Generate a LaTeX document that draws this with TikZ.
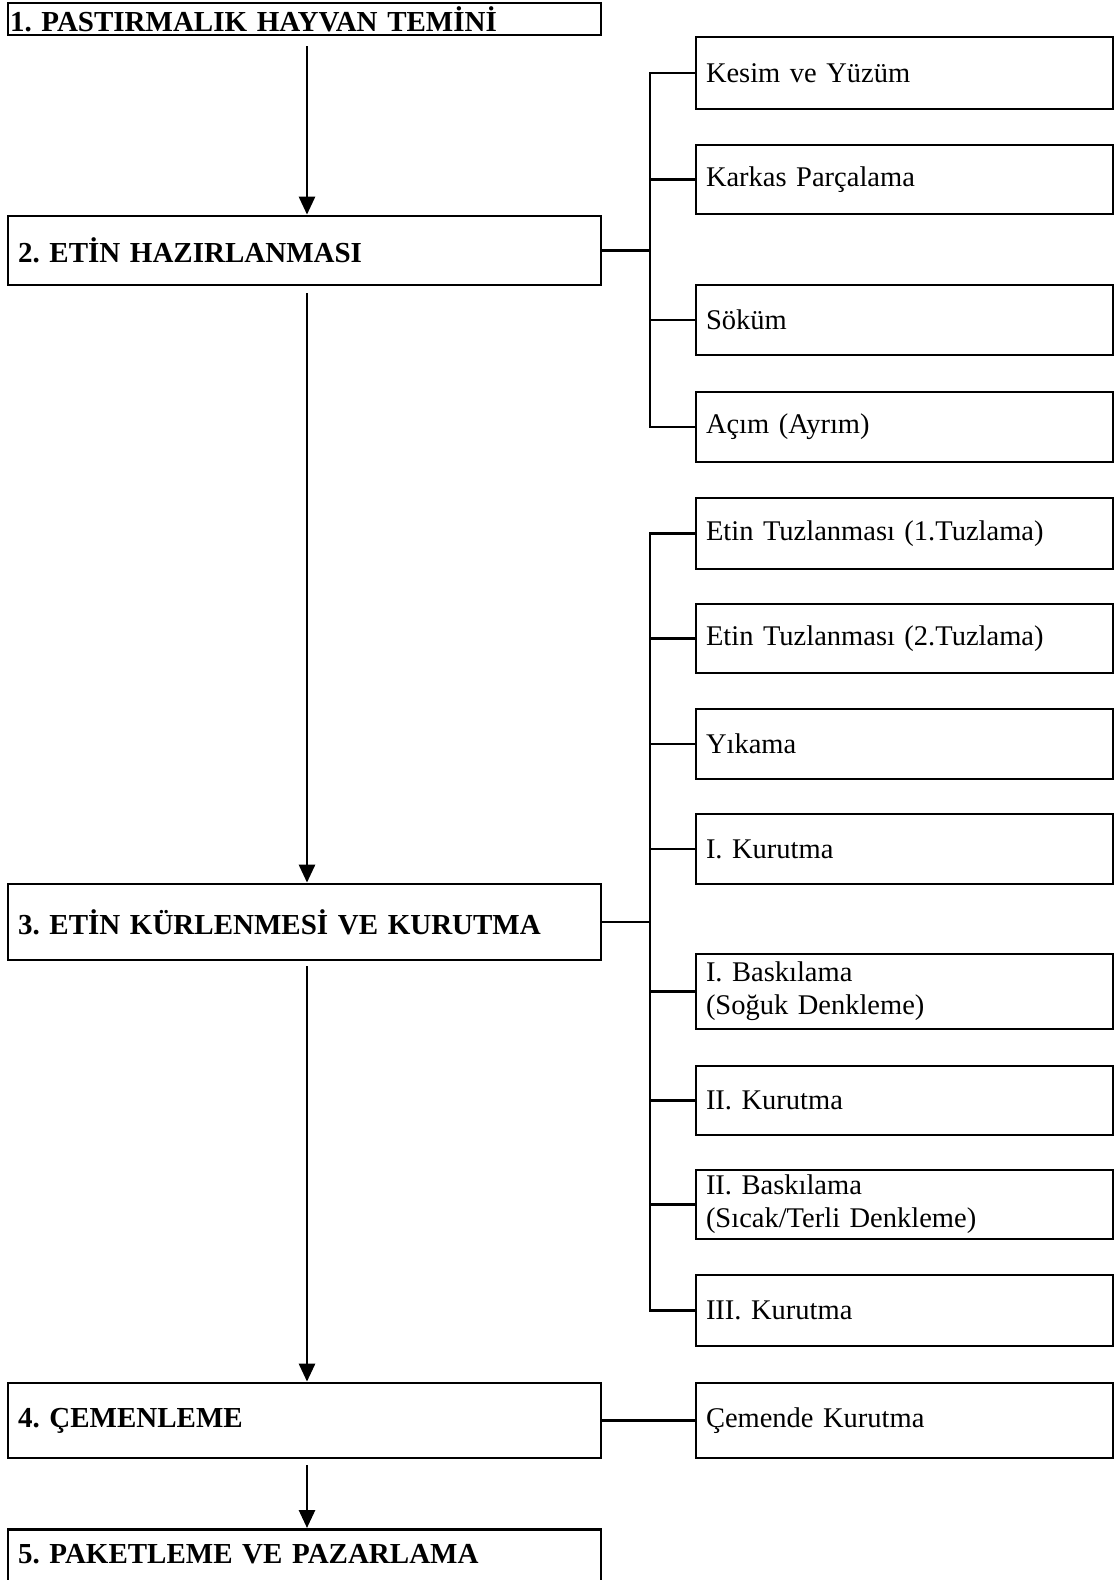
\documentclass[tikz,border=0pt]{standalone}
\usepackage{fontspec}
\setmainfont{Liberation Serif}
\usetikzlibrary{arrows.meta}
\frenchspacing

\tikzset{
  stage/.style={draw, line width=2.8pt, minimum width=593pt, text width=573pt, inner xsep=10pt, inner ysep=0pt, align=left, font=\bfseries\fontsize{29}{34}\selectfont},
  substage/.style={draw, line width=2.8pt, minimum width=417pt, text width=397pt, inner xsep=10pt, inner ysep=0pt, minimum height=70pt, align=left, font=\fontsize{28.5}{33}\selectfont},
  flow/.style={line width=2.8pt, -{Triangle[width=16pt,length=18pt]}},
  link/.style={line width=2.8pt}
}

\begin{document}
\begin{tikzpicture}[x=1pt, y=-1pt]

\useasboundingbox (0,0) rectangle (1117,1580);
\clip (0,0) rectangle (1117,1580);
\fill [white] (0,0) rectangle (1117,1580);

\node [stage, minimum height=32pt, inner xsep=2pt, text width=589pt] (h1) at (304.5,19) {1. PASTIRMALIK HAYVAN TEMİNİ};
\node [stage, minimum height=69pt] (h2) at (304.5,250.5) {2. ETİN HAZIRLANMASI};
\node [stage, minimum height=76pt] (h3) at (304.5,922) {3. ETİN KÜRLENMESİ VE KURUTMA};
\node [stage, minimum height=75pt] (h4) at (304.5,1420.5) {4. ÇEMENLEME};
\node [stage, anchor=north, text height=34pt, text depth=40pt] (h5) at (304.5,1528) {5. PAKETLEME VE PAZARLAMA};

\node [substage, minimum height=72pt] (kesim) at (904.5,73) {Kesim ve Yüzüm};
\node [substage, minimum height=69pt] (karkas) at (904.5,179.5) {Karkas Parçalama};
\node [substage] (sokum) at (904.5,320) {Söküm};
\node [substage] (acim) at (904.5,427) {Açım (Ayrım)};

\node [substage, minimum height=71pt] (tuz1) at (904.5,533.5) {Etin Tuzlanması (1.Tuzlama)};
\node [substage, minimum height=69pt] (tuz2) at (904.5,638.5) {Etin Tuzlanması (2.Tuzlama)};
\node [substage] (yikama) at (904.5,744) {Yıkama};
\node [substage] (kur1) at (904.5,849) {I. Kurutma};
\node [substage, minimum height=75pt] (bask1) at (904.5,991.5) {I. Baskılama\\(Soğuk Denkleme)};
\node [substage, minimum height=69pt] (kur2) at (904.5,1100.5) {II. Kurutma};
\node [substage, minimum height=69pt] (bask2) at (904.5,1204.5) {II. Baskılama\\(Sıcak/Terli Denkleme)};
\node [substage, minimum height=71pt] (kur3) at (904.5,1310.5) {III. Kurutma};

\node [substage, minimum height=75pt] (cemende) at (904.5,1420.5) {Çemende Kurutma};

\coordinate (spine) at (650,0);
\coordinate (axis) at (307,0);

\draw [flow, shorten <=10pt] (h1.south -| axis) -- (h2.north -| axis);
\draw [flow, shorten <=7pt] (h2.south -| axis) -- (h3.north -| axis);
\draw [flow, shorten <=5pt] (h3.south -| axis) -- (h4.north -| axis);
\draw [flow, shorten <=6pt] (h4.south -| axis) -- (h5.north -| axis);

\draw [link] (h2.east) -- (h2.east -| spine);
\draw [link] (kesim.west) -- (kesim.west -| spine) -- (acim.west -| spine) -- (acim.west);
\draw [link] (karkas.west) -- (karkas.west -| spine);
\draw [link] (sokum.west) -- (sokum.west -| spine);

\draw [link] (h3.east) -- (h3.east -| spine);
\draw [link] (tuz1.west) -- (tuz1.west -| spine) -- (kur3.west -| spine) -- (kur3.west);
\draw [link] (tuz2.west) -- (tuz2.west -| spine);
\draw [link] (yikama.west) -- (yikama.west -| spine);
\draw [link] (kur1.west) -- (kur1.west -| spine);
\draw [link] (bask1.west) -- (bask1.west -| spine);
\draw [link] (kur2.west) -- (kur2.west -| spine);
\draw [link] (bask2.west) -- (bask2.west -| spine);

\draw [link] (h4.east) -- (cemende.west);
\end{tikzpicture}
\end{document}
